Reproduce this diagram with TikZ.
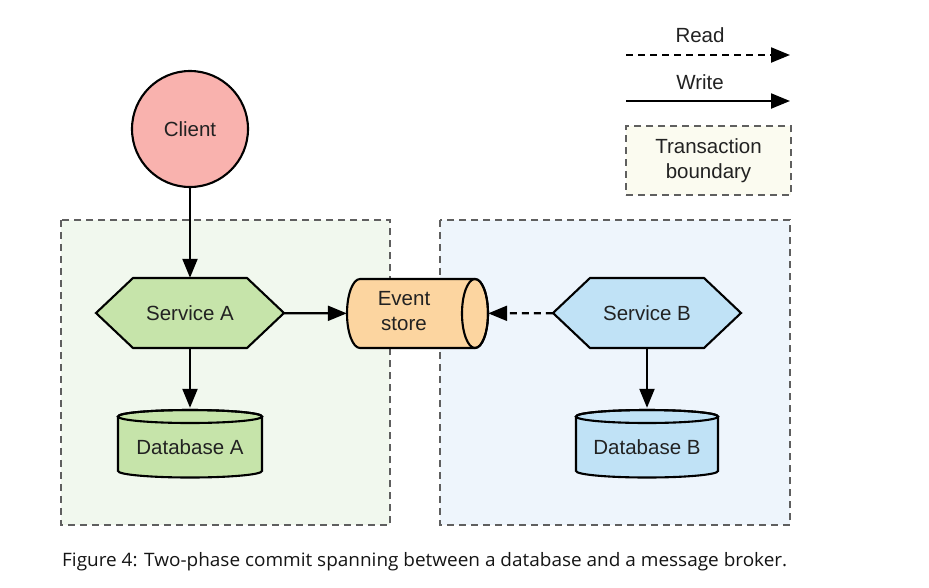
\documentclass[tikz,border=0pt]{standalone}
\usepackage{fontspec}
\setmainfont{Liberation Sans}
\newfontfamily\capfont{Open Sans}
\usetikzlibrary{arrows.meta}
\definecolor{clientfill}{RGB}{249,178,174}
\definecolor{greenfill}{RGB}{198,228,170}
\definecolor{bluefill}{RGB}{192,226,246}
\definecolor{orangefill}{RGB}{252,213,160}
\definecolor{greenbg}{RGB}{241,248,238}
\definecolor{bluebg}{RGB}{238,245,252}
\definecolor{legendbg}{RGB}{251,251,240}
\definecolor{boundary}{RGB}{95,95,95}
\definecolor{txt}{RGB}{34,34,34}
\definecolor{captxt}{RGB}{21,21,21}
\tikzset{
  shapeline/.style={draw=black, line width=2.1pt},
  zone/.style={draw=boundary, line width=1.4pt, dash pattern=on 7pt off 5pt},
  lbl/.style={font=\fontsize{20.5}{25}\selectfont, text=txt, align=center},
  anchorbox/.style={draw=none, inner sep=0pt},
  conn/.style={line width=2.2pt, -{Triangle[length=19pt,width=15pt]}},
  readconn/.style={conn, dash pattern=on 7pt off 5pt},
}
\begin{document}
\begin{tikzpicture}[x=1pt,y=-1pt]
\useasboundingbox (0,0) rectangle (929,587);
\fill[white] (0,0) rectangle (929,587);

% transaction zones
\filldraw[zone, fill=greenbg] (61,220) rectangle (390,525);
\filldraw[zone, fill=bluebg] (440,220) rectangle (790,525);

% legend
\node[lbl] (readlbl) at (700,35) {Read};
\coordinate (r1) at (626,55);
\coordinate (r2) at (790,55);
\draw[readconn] (r1) -- (r2);
\node[lbl] (writelbl) at (700,82) {Write};
\coordinate (w1) at (626,101);
\coordinate (w2) at (790,101);
\draw[conn] (w1) -- (w2);
\node[zone, fill=legendbg, minimum width=165pt, minimum height=69pt, lbl] (legend) at (708.5,160.5) {Transaction\\boundary};

% client
\node[shapeline, fill=clientfill, circle, minimum size=116pt, lbl] (client) at (190,129) {Client};

% service A hexagon
\filldraw[shapeline, fill=greenfill] (96,313) -- (133,278) -- (247,278) -- (284,313) -- (247,348) -- (133,348) -- cycle;
\node[anchorbox, minimum width=188pt, minimum height=70pt, lbl] (svcA) at (190,313) {Service A};

% service B hexagon
\filldraw[shapeline, fill=bluefill] (553,313) -- (590,278) -- (704,278) -- (741,313) -- (704,348) -- (590,348) -- cycle;
\node[anchorbox, minimum width=188pt, minimum height=70pt, lbl] (svcB) at (647,313) {Service B};

% event store cylinder
\filldraw[shapeline, fill=orangefill] (360,279) -- (475,279)
  arc[start angle=-90, end angle=90, x radius=13, y radius=34.5]
  -- (360,348)
  arc[start angle=90, end angle=270, x radius=13, y radius=34.5] -- cycle;
\draw[shapeline] (475,313.5) ellipse[x radius=13, y radius=34.5];
\node[anchorbox, minimum width=141pt, minimum height=69pt] (evt) at (417.5,313.5) {};
\node[lbl] (evttxt) at (404,311) {Event\\store};

% database A
\filldraw[shapeline, fill=greenfill] (118,416.5) -- (118,471)
  arc[start angle=180, end angle=0, x radius=72, y radius=6.5]
  -- (262,416.5)
  arc[start angle=0, end angle=-180, x radius=72, y radius=6.5] -- cycle;
\draw[shapeline] (190,416.5) ellipse[x radius=72, y radius=6.5];
\node[anchorbox, minimum width=144pt, minimum height=70pt] (dbA) at (190,443) {};
\node[lbl] (dbAtxt) at (190,447) {Database A};

% database B
\filldraw[shapeline, fill=bluefill] (576,416.5) -- (576,471)
  arc[start angle=180, end angle=0, x radius=71, y radius=6.5]
  -- (718,416.5)
  arc[start angle=0, end angle=-180, x radius=71, y radius=6.5] -- cycle;
\draw[shapeline] (647,416.5) ellipse[x radius=71, y radius=6.5];
\node[anchorbox, minimum width=142pt, minimum height=70pt] (dbB) at (647,443) {};
\node[lbl] (dbBtxt) at (647,447) {Database B};

% connectors
\draw[conn] (client) -- (svcA);
\draw[conn] (svcA) -- (evt);
\draw[readconn] (svcB) -- (evt);
\draw[conn] (svcA) -- (dbA);
\draw[conn] (svcB) -- (dbB);

% caption
\node[anchor=base west, text=captxt, font=\capfont\fontsize{18.5}{22}\selectfont, inner sep=0pt] (caption) at (62,566) {\resizebox{725pt}{\height}{Figure 4: Two-phase commit spanning between a database and a message broker.}};
\end{tikzpicture}
\end{document}
